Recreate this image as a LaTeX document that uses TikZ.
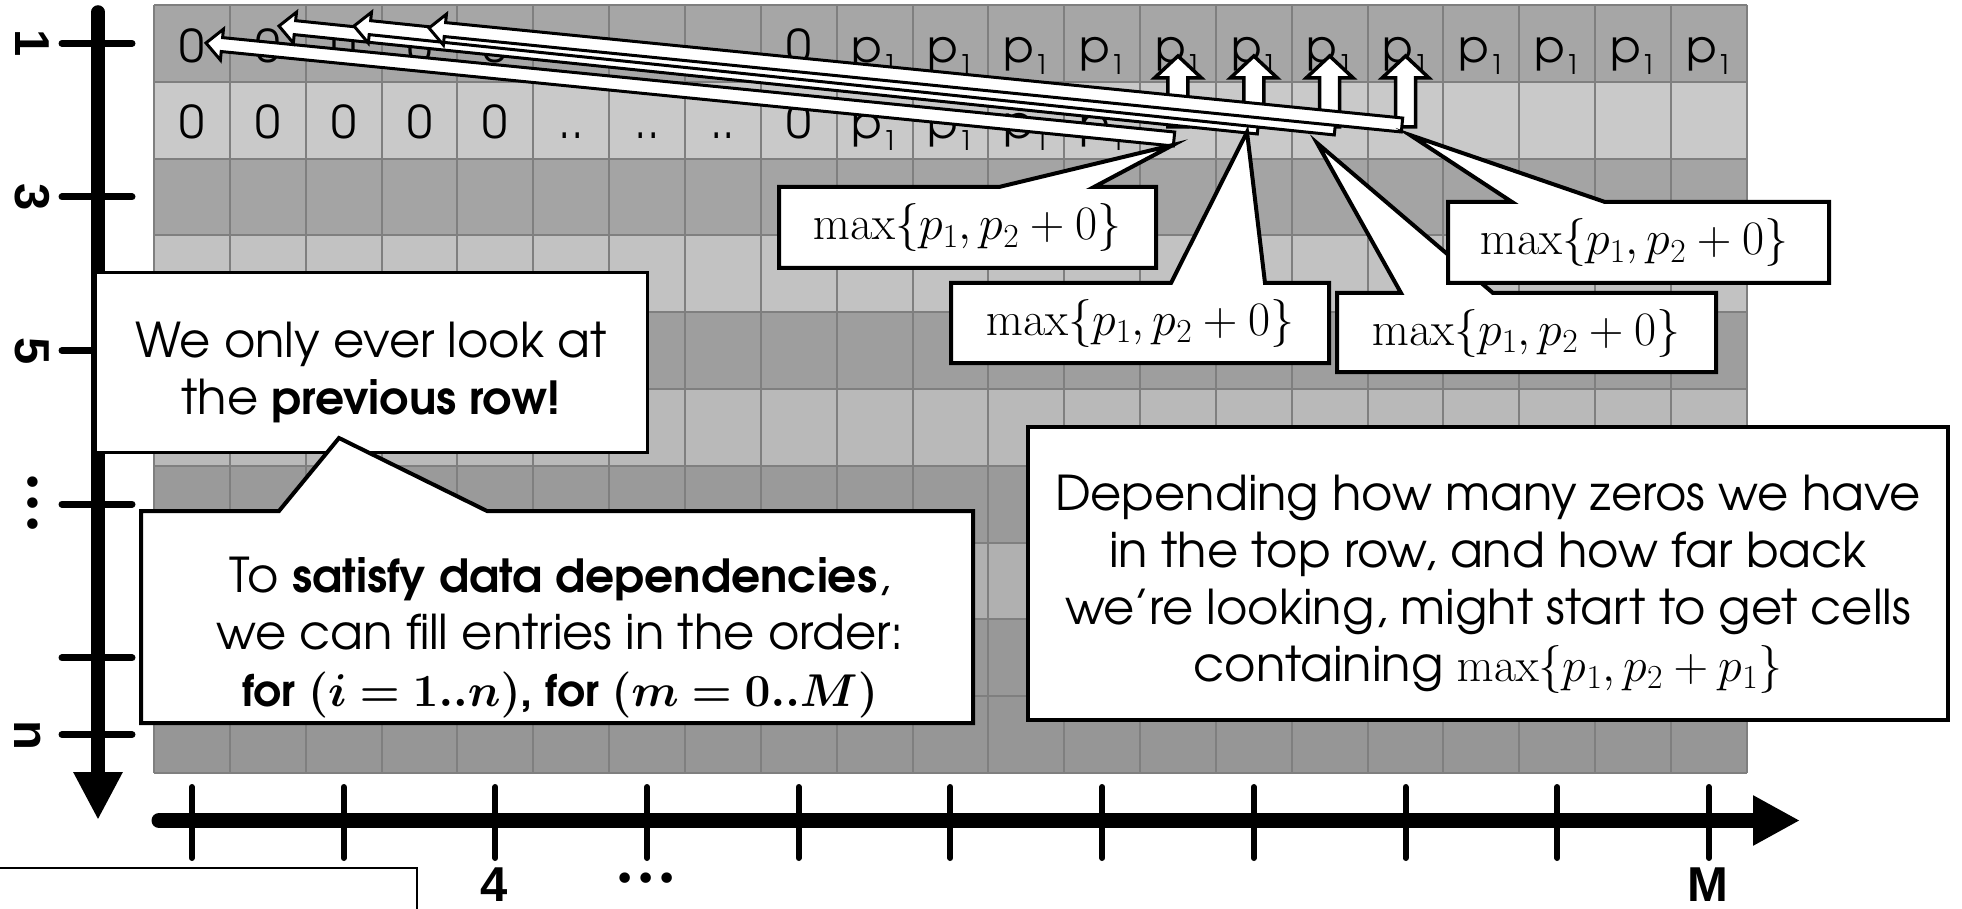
\RequirePackage{fix-cm}
\documentclass[tikz,border=0pt]{standalone}
\usepackage{bm}
\usepackage[no-math]{fontspec}
\setmainfont{TeX Gyre Adventor}[BoldFeatures={Scale=0.95}]
\newfontfamily\axisfont{Liberation Sans}
\newfontfamily\dotfont{DejaVu Sans}
\usetikzlibrary{calc,arrows.meta}
\definecolor{gridgray}{HTML}{7F7F7F}
\definecolor{rowa}{HTML}{A6A6A6}
\definecolor{rowb}{HTML}{C9C9C9}
\definecolor{rowc}{HTML}{A4A4A4}
\definecolor{rowd}{HTML}{C2C2C2}
\definecolor{rowe}{HTML}{9E9E9E}
\definecolor{rowf}{HTML}{B9B9B9}
\definecolor{rowg}{HTML}{9A9A9A}
\definecolor{rowh}{HTML}{B0B0B0}
\definecolor{rowi}{HTML}{989898}
\definecolor{rowj}{HTML}{969696}
\newcommand{\pone}{p\raisebox{-0.26em}{\fontsize{27}{27}\selectfont 1}}
\newcommand{\twodots}{..}
% block arrow: #1 tail, #2 tip, #3 shaft half width, #4 head half width, #5 head length, #6 style
\newcommand{\blockarrow}[6]{%
  \coordinate (hb) at ($(#2)!#5!(#1)$);
  \draw[#6] ($(#1)!#3!90:(#2)$) -- ($(hb)!#3!90:(#2)$) -- ($(hb)!#4!90:(#2)$) -- (#2)
    -- ($(hb)!#4!-90:(#2)$) -- ($(hb)!#3!-90:(#2)$) -- ($(#1)!#3!-90:(#2)$) -- cycle;
}
\begin{document}
\begin{tikzpicture}[x=1pt,y=-1pt,
  gridline/.style={draw=gridgray, line width=2pt},
  cell/.style={font=\fontsize{45}{52}\selectfont, inner sep=0pt, anchor=base},
  leftblock/.style={fill=white, draw=black, line width=3pt, line join=miter},
  upblock/.style={fill=white, draw=black, line width=3.5pt, line join=miter},
  callout/.style={fill=white, draw=black, line width=4pt, line join=miter},
  boxtext/.style={font=\fontsize{48}{57}\selectfont, align=center, inner sep=0pt},
  mathtext/.style={font=\fontsize{48}{52}\selectfont, inner sep=0pt},
  vaxis/.style={line width=13.5pt, line cap=round, -{Triangle[length=48pt,width=46pt]}},
  haxis/.style={line width=15pt, line cap=round, -{Triangle[length=47pt,width=47pt]}},
  vtick/.style={line width=7pt, line cap=round},
  htick/.style={line width=6pt, line cap=round},
  axislabel/.style={font=\axisfont\bfseries\fontsize{49}{49}\selectfont, inner sep=0pt},
]
\useasboundingbox (0,0) rectangle (1962,909);
\clip (0,0) rectangle (1962,909);
\fill[white] (0,0) rectangle (1962,909);

% ---- grid ----
\foreach \r/\rc in {1/rowa,2/rowb,3/rowc,4/rowd,5/rowe,6/rowf,7/rowg,8/rowh,9/rowi,10/rowj}
  \fill[\rc] (154,{5+(\r-1)*76.8}) rectangle (1746.85,{5+\r*76.8});
\foreach \c in {0,...,21}
  \draw[gridline] ({154+\c*75.85},5) -- ({154+\c*75.85},773);
\foreach \r in {0,...,10}
  \draw[gridline] (154,{5+\r*76.8}) -- (1746.85,{5+\r*76.8});

% ---- cell entries ----
\foreach \c/\t in {1/0,2/0,3/0,4/0,5/0,6/\twodots,7/\twodots,8/\twodots,9/0}{
  \node[cell] (ra\c) at ({154+(\c-0.5)*75.85},62.5) {\t};
  \node[cell] (rb\c) at ({154+(\c-0.5)*75.85},138.5) {\t};
}
\foreach \c in {10,...,21}
  \node[cell] (ra\c) at ({154+(\c-0.5)*75.85},62.5) {\pone};
\foreach \c in {10,...,13}
  \node[cell] (rb\c) at ({154+(\c-0.5)*75.85},138.5) {\pone};

% ---- up arrows ----
\foreach \c [count=\i] in {14,15,16,17}{
  \coordinate (upt\i) at ({154+(\c-0.5)*75.85},127);
  \coordinate (uph\i) at ({154+(\c-0.5)*75.85},56);
  \blockarrow{upt\i}{uph\i}{10pt}{23.5pt}{22pt}{upblock}
}

% ---- long left arrows ----
\coordinate (tailA) at (1174,139); \coordinate (tipA) at (206,43);
\coordinate (tailB) at (1258,127); \coordinate (tipB) at (279,26);
\coordinate (tailC) at (1335,128); \coordinate (tipC) at (354,26);
\coordinate (tailD) at (1402,125); \coordinate (tipD) at (429,28);
\blockarrow{tailA}{tipA}{7pt}{15.5pt}{16pt}{leftblock}
\blockarrow{tailB}{tipB}{7pt}{15.5pt}{16pt}{leftblock}
\blockarrow{tailC}{tipC}{7pt}{15.5pt}{16pt}{leftblock}
\blockarrow{tailD}{tipD}{7pt}{15.5pt}{16pt}{leftblock}

% ---- axes ----
\coordinate (vstart) at (98,12); \coordinate (vend) at (98,820);
\coordinate (hstart) at (159,820.5); \coordinate (hend) at (1800,820.5);
\draw[vaxis] (vstart) -- (vend);
\draw[haxis] (hstart) -- (hend);
\foreach \r in {1,3,5,7,9,10}
  \draw[vtick] (62,{5+(\r-0.5)*76.8}) -- (132,{5+(\r-0.5)*76.8});
\foreach \c in {1,3,...,21}
  \draw[htick] ({154+(\c-0.5)*75.85},787) -- ({154+(\c-0.5)*75.85},858);
\node[axislabel, rotate=-90, anchor=base] (yl1) at (15,43.4) {1};
\node[axislabel, rotate=-90, anchor=base] (yl3) at (15,197) {3};
\node[axislabel, rotate=-90, anchor=base] (yl5) at (15,351) {5};
\node[font=\dotfont\fontsize{36}{36}\selectfont, inner sep=0pt, rotate=-90] (yldots) at (29,503) {•••};
\node[axislabel, rotate=-90, anchor=base] (yln) at (14,735) {n};
\node[axislabel, anchor=base] (xl4) at (494,901) {4};
\node[font=\dotfont\fontsize{36}{36}\selectfont, inner sep=0pt] (xldots) at (646,882) {•••};
\node[axislabel, anchor=base] (xlM) at (1708,901) {M};

% ---- max callouts ----
\coordinate (c1tip) at (1173,145);
\draw[callout] (779,187) -- (999,187) -- (c1tip) -- (1094,187) -- (1156,187) -- (1156,268) -- (779,268) -- cycle;
\node[mathtext] (m1) at (967,228) {$\max\{p_1,p_2+0\}$};
\coordinate (c2tip) at (1247,132);
\draw[callout] (951,283) -- (1171,283) -- (c2tip) -- (1265,283) -- (1329,283) -- (1329,363) -- (951,363) -- cycle;
\node[mathtext] (m2) at (1140,323) {$\max\{p_1,p_2+0\}$};
\coordinate (c3tip) at (1317,143);
\draw[callout] (1337,293) -- (1401,293) -- (c3tip) -- (1493,293) -- (1716,293) -- (1716,372) -- (1337,372) -- cycle;
\node[mathtext] (m3) at (1526,333) {$\max\{p_1,p_2+0\}$};
\coordinate (c4tip) at (1410,135);
\draw[callout] (1448,202) -- (1512,202) -- (c4tip) -- (1605,202) -- (1829,202) -- (1829,283) -- (1448,283) -- cycle;
\node[mathtext] (m4) at (1634,243) {$\max\{p_1,p_2+0\}$};

% ---- text callouts ----
\draw[callout, line width=3pt] (95,273) rectangle (647,452);
\node[boxtext] (look) at (371,372) {We only ever look at\\the \textbf{previous row!}};
\coordinate (c5tip) at (339,438);
\draw[callout] (141,511) -- (279,511) -- (c5tip) -- (487,511) -- (973,511) -- (973,723) -- (141,723) -- cycle;
\node[boxtext] (order) at (560,638) {To \textbf{satisfy data dependencies},\\we can fill entries in the order:\\{\fontsize{46}{57}\selectfont\textbf{for $\bm{(i=1..n)}$, for $\bm{(m=0..M)}$}}};
\draw[callout] (1028,427) rectangle (1948,720);
\node[boxtext] (depend) at (1488,584) {Depending how many zeros we have\\in the top row, and how far back\\we’re looking, might start to get cells\\containing $\max\{p_1,p_2+p_1\}$};

% ---- blank box bottom left ----
\draw[fill=white, draw=black, line width=1.5pt] (-5,868) rectangle (417,930);
\end{tikzpicture}
\end{document}
